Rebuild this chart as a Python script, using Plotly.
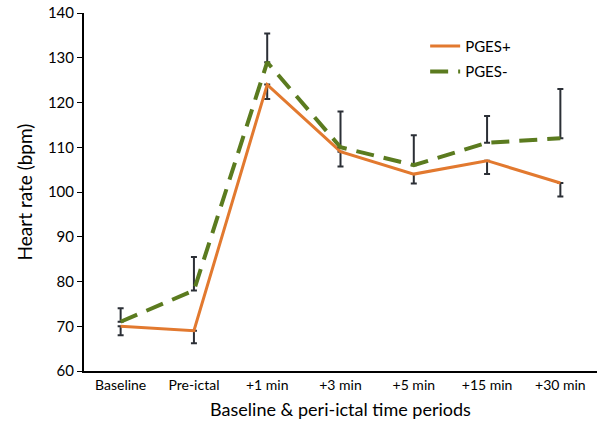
import plotly.graph_objects as go

categories = ["Baseline", "Pre-ictal", "+1 min", "+3 min", "+5 min", "+15 min", "+30 min"]
pges_plus = [70, 69, 124, 109, 104, 107, 102]
pges_plus_err_minus = [2, 2.8, 3.2, 3.3, 2.1, 3, 3]
pges_minus = [71, 78, 129, 110, 106, 111, 112]
pges_minus_err_plus = [3, 7.5, 6.4, 8, 6.7, 6, 11]
y_ticks = [60, 70, 80, 90, 100, 110, 120, 130, 140]

xs = list(range(len(categories)))
err_color = "#2b2f36"
font = "Lato, 'Open Sans', sans-serif"

fig = go.Figure()
fig.add_trace(go.Scatter(
    x=xs, y=pges_plus, mode="lines", name="PGES+", legendgroup="a",
    line=dict(color="#E2792F", width=3),
    error_y=dict(type="data", symmetric=False, array=[0]*len(xs),
                 arrayminus=pges_plus_err_minus, color=err_color, thickness=2, width=3),
))
fig.add_trace(go.Scatter(
    x=xs, y=pges_minus, mode="lines", name="PGES-", legendgroup="b",
    line=dict(color="#5B7B1F", width=4, dash="18px,10px"),
    error_y=dict(type="data", symmetric=False, array=pges_minus_err_plus,
                 arrayminus=[0]*len(xs), color=err_color, thickness=2, width=3),
))

fig.update_layout(
    width=600, height=426,
    margin=dict(l=84, r=3, t=11, b=55),
    paper_bgcolor="white", plot_bgcolor="white",
    font=dict(family=font, color="black", size=14),
    showlegend=True,
    legend=dict(x=0.665, y=0.953, xanchor="left", yanchor="top",
                bgcolor="rgba(0,0,0,0)", font=dict(size=15), tracegroupgap=3,
                traceorder="grouped"),
    xaxis=dict(
        range=[-0.5, 6.5], tickmode="array", tickvals=xs, ticktext=categories,
        showline=True, linecolor="black", linewidth=2, ticks="", showgrid=False,
        zeroline=False, tickfont=dict(size=14),
        title=dict(text="Baseline &amp; peri-ictal time periods", font=dict(size=18), standoff=12),
    ),
    yaxis=dict(
        range=[60, 140], tickmode="array", tickvals=y_ticks,
        showline=True, linecolor="black", linewidth=2, ticks="outside", ticklen=5,
        tickcolor="black", tickwidth=1, showgrid=False, zeroline=False,
        tickfont=dict(size=15),
        title=dict(text="Heart rate (bpm)", font=dict(size=19), standoff=10),
    ),
)

fig.write_html("out.html", config={"displayModeBar": False},
               post_script="document.body.style.margin='0';document.body.style.padding='0';")
